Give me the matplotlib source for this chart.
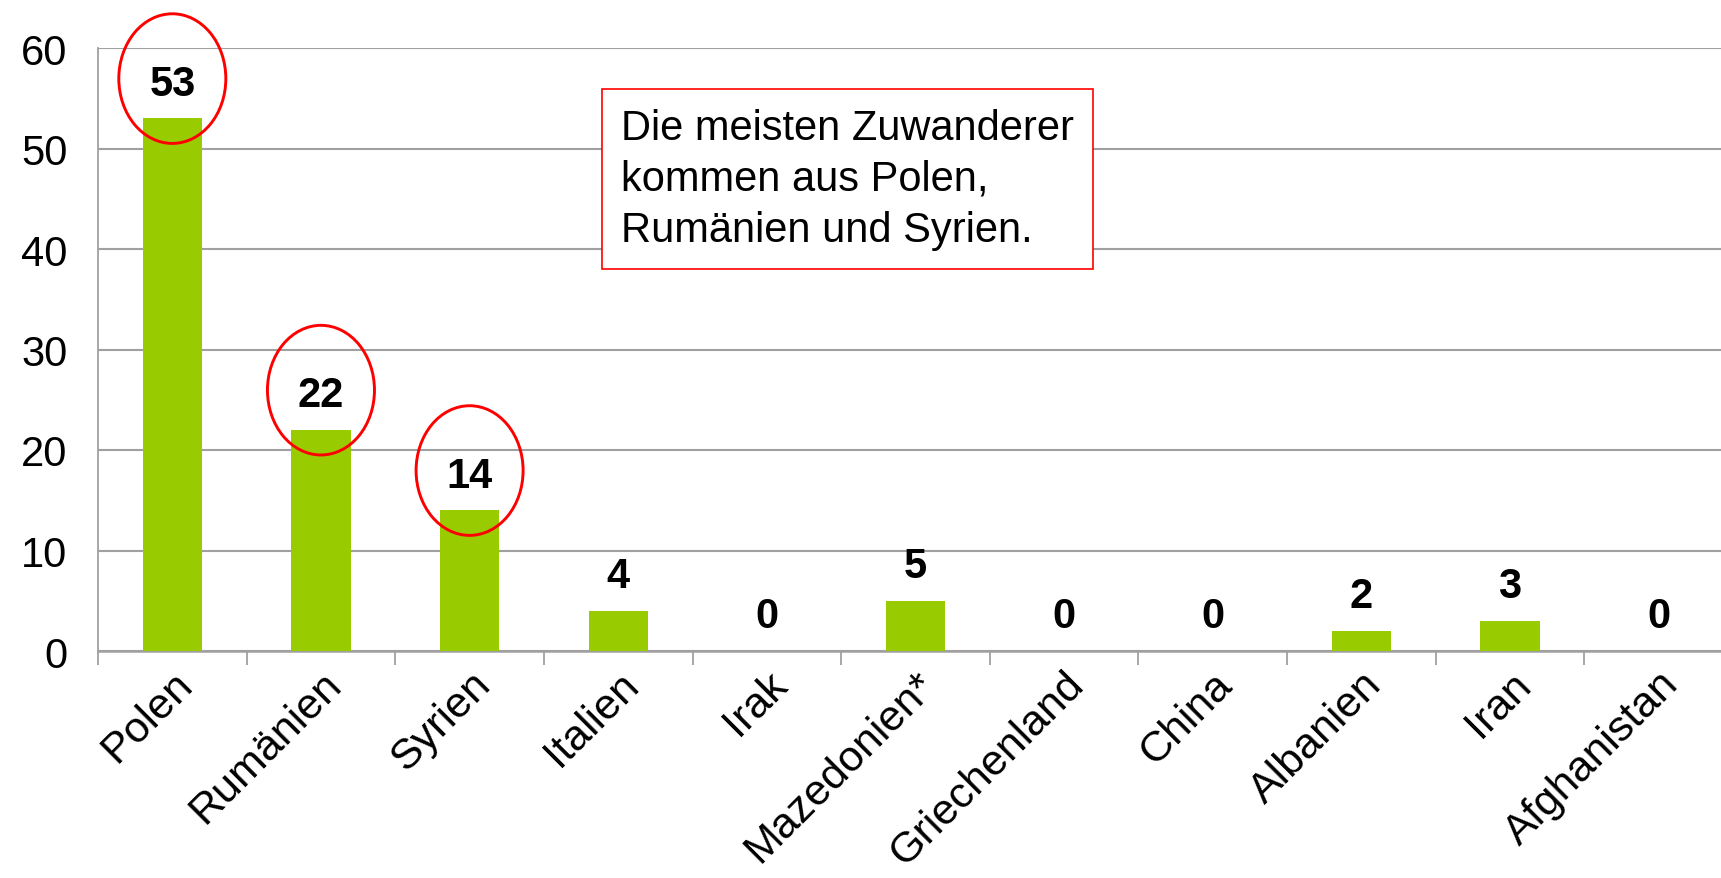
import matplotlib
matplotlib.use("Agg")
import matplotlib.pyplot as plt
from matplotlib.patches import Ellipse
import numpy as np

plt.rcParams['font.family'] = ['Liberation Sans', 'DejaVu Sans']

categories = ["Polen", "Rumänien", "Syrien", "Italien", "Irak", "Mazedonien*",
              "Griechenland", "China", "Albanien", "Iran", "Afghanistan"]
values = [53, 22, 14, 4, 0, 5, 0, 0, 2, 3, 0]
highlighted = ["Polen", "Rumänien", "Syrien"]
note_text = "Die meisten Zuwanderer\nkommen aus Polen,\nRumänien und Syrien."
yticks = [0, 10, 20, 30, 40, 50, 60]

fig = plt.figure(figsize=(17.21, 8.79), dpi=100)
ax = fig.add_axes([98/1721, 227/879, 1635/1721, 603/879])

x = np.arange(len(categories))
ax.bar(x, values, width=0.4, color='#99CC00', zorder=3)

ax.set_xlim(-0.5, len(categories) - 0.5)
ax.set_ylim(0, 60)
ax.set_yticks(yticks)
ax.set_yticklabels([str(t) for t in yticks], fontsize=30)
ax.tick_params(axis='y', length=0, pad=22)

ax.set_xticks(x)
ax.set_xticklabels(categories, rotation=45, ha='right', rotation_mode='anchor', fontsize=31)
ax.tick_params(axis='x', length=0, pad=9)
# boundary tick marks
ax.set_xticks(np.arange(-0.5, len(categories) + 0.5, 1), minor=True)
ax.tick_params(axis='x', which='minor', length=10, width=1.3, color='#A0A0A0', direction='out')

ax.grid(axis='y', color='#A0A0A0', linewidth=1.5, zorder=0)
for s in ['top', 'right']:
    ax.spines[s].set_visible(False)
ax.spines['left'].set_color('#A0A0A0')
ax.spines['left'].set_linewidth(1.3)
ax.spines['bottom'].set_color('#A0A0A0')
ax.spines['bottom'].set_linewidth(1.8)

label_pos = {}
for xi, v, c in zip(x, values, categories):
    ax.annotate(str(v), (xi, v), xytext=(0, 25), textcoords='offset points',
                ha='center', va='center', fontsize=30, fontweight='bold', zorder=5)
    label_pos[c] = (xi, v)

px_per_unit = 603 / 60.0
off_units = 25 * 100 / 72 / px_per_unit
for c in highlighted:
    xi, v = label_pos[c]
    e = Ellipse((xi, v + off_units + 0.5), width=0.72, height=12.9, fill=False,
                edgecolor='#FF0000', linewidth=2.1, zorder=6, clip_on=False)
    ax.add_patch(e)

fig.text(621/1721, 1 - 180/879, note_text, fontsize=30, ha='left', va='center',
         linespacing=1.36,
         bbox=dict(boxstyle='square,pad=0.45', facecolor='white', edgecolor='#FF0000', linewidth=1.2),
         zorder=10)

fig.savefig('out.png', dpi=100)
